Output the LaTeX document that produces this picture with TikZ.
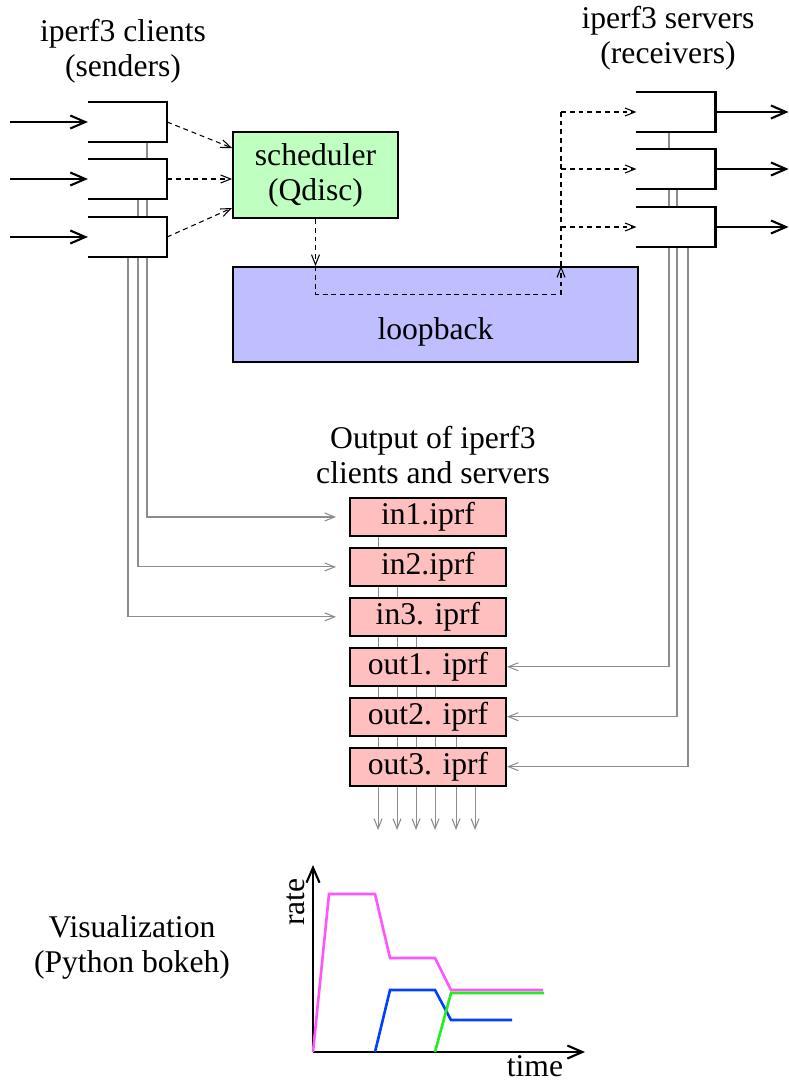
\documentclass[tikz,border=0pt]{standalone}
\usepackage{fontspec}
\setmainfont{Liberation Serif}
\usepackage{xcolor}
\usepackage{tikz}
\usetikzlibrary{arrows.meta,positioning,backgrounds}
\definecolor{schedgreen}{HTML}{BFFFBF}
\definecolor{loopblue}{HTML}{BFBFFF}
\definecolor{filepink}{HTML}{FFBFBF}
\definecolor{ratepink}{HTML}{FF55FF}
\definecolor{rateblue}{HTML}{0040FF}
\definecolor{rategreen}{HTML}{22EE22}
\tikzstyle{port} = [rectangle, fill=white, minimum width=1.57cm, minimum height=0.78cm, inner sep=0pt]
\tikzstyle{bracket} = [draw, line width=1.3pt]
\tikzstyle{block} = [rectangle, draw, line width=1.1pt, align=center, inner sep=0pt]
\tikzstyle{iprf} = [block, fill=filepink, minimum width=3.12cm, minimum height=0.76cm]
\tikzstyle{flow} = [draw, line width=1.2pt, -{Straight Barb[length=3mm,width=2.6mm]}]
\tikzstyle{ctrl} = [draw, line width=0.6pt, dash pattern=on 2.8pt off 2.2pt]
\tikzstyle{ctrltip} = [-{Straight Barb[length=2mm,width=1.6mm]}]
\tikzstyle{feed} = [draw, gray!90, line width=0.6pt, -{Straight Barb[length=2mm,width=1.6mm]}]
\tikzstyle{rate} = [line width=1.5pt]

\begin{document}
\begin{tikzpicture}[x=0.02cm, y=-0.02cm, font=\fontsize{18}{20}\selectfont]
        \useasboundingbox (0,0) rectangle (788,1084);

        % Place nodes
        \node [align=center] (ctitle) at (123,51) {iperf3 clients\\(senders)};
        \node [align=center] (stitle) at (668,38) {iperf3 servers\\(receivers)};

        \node [port] (c1) at (127.5,122) {};
        \node [port] (c2) at (127.5,179) {};
        \node [port] (c3) at (127.5,237) {};
        \node [port] (s1) at (676,112) {};
        \node [port] (s2) at (676,169) {};
        \node [port] (s3) at (676,227) {};

        \node [block, fill=schedgreen, minimum width=3.3cm, minimum height=1.72cm] (sched) at (315.5,175) {scheduler\\(Qdisc)};
        \node [block, fill=loopblue, minimum width=8.1cm, minimum height=1.9cm] (loop) at (435.5,314.5) {};
        \node (looptext) at (435.5,332) {loopback};
        \coordinate (bus) at (561,0);

        \node [align=center] (otitle) at (433,455) {Output of iperf3\\clients and servers};
        \node [iprf] (in1) at (428,517) {in1.iprf};
        \node [iprf, below=0.2cm of in1] (in2) {in2.iprf};
        \node [iprf, below=0.2cm of in2] (in3) {in3. iprf};
        \node [iprf, below=0.2cm of in3] (out1) {out1. iprf};
        \node [iprf, below=0.2cm of out1] (out2) {out2. iprf};
        \node [iprf, below=0.2cm of out2] (out3) {out3. iprf};

        \node [align=center] (vtitle) at (132,947) {Visualization\\(Python bokeh)};

        % Brackets of the ports
        \foreach \p in {c1,c2,c3,s1,s2,s3}
            \draw [bracket] (\p.north west) -- (\p.north east) -- (\p.south east) -- (\p.south west);

        % Draw edges
        \foreach \p in {c1,c2,c3}
            \draw [flow] (\p.west) ++(-78,0) -- (\p.west);
        \foreach \p in {s1,s2,s3}
            \draw [flow] (\p.east) -- ++(73,0);

        \draw [ctrl, ctrltip] (c1.east) -- ([yshift=0.54cm]sched.west);
        \draw [ctrl, ctrltip] (c2.east) -- (c2.east -| sched.west);
        \draw [ctrl, ctrltip] (c3.east) -- ([yshift=-0.66cm]sched.west);
        \draw [ctrl, ctrltip] (sched.south) -- (sched.south |- loop.north);
        \draw [ctrl, ctrltip] (sched.south |- loop.north) -- ++(0,28) -| (bus |- loop.north);
        \draw [ctrl] (bus |- loop.north) -- (bus |- s1.west);
        \foreach \p in {s1,s2,s3}
            \draw [ctrl, ctrltip] (bus |- \p.west) -- (\p.west);

        % Result files, behind the boxes
        \begin{scope}[on background layer]
            \draw [feed, shorten >=0.26cm] ([xshift=0.39cm]c1.south) |- (in1.west);
            \draw [feed, shorten >=0.26cm] ([xshift=0.21cm]c2.south) |- (in2.west);
            \draw [feed, shorten >=0.26cm] ([xshift=0.01cm]c3.south) |- (in3.west);
            \draw [feed] ([xshift=-0.14cm]s1.south) |- (out1.east);
            \draw [feed] ([xshift=0.02cm]s2.south) |- (out2.east);
            \draw [feed] ([xshift=0.24cm]s3.south) |- (out3.east);
            \foreach \f/\dx in {in1/0.58,in2/0.96,in3/1.34,out1/1.72,out2/2.14,out3/2.52}
                \draw [feed] ([xshift=\dx cm]\f.south west) -- ([xshift=\dx cm]\f.south west |- 0,830);
        \end{scope}

        % Rate plot
        \coordinate (o) at (313,1052);
        \draw [flow] (o) -- (o |- 0,865);
        \draw [flow] (o) -- (585,1052);
        \node [rotate=90] (ylabel) at (296,902) {rate};
        \node (xlabel) at (535,1066) {time};
        \draw [rate, ratepink] (o) -- (329,894) -- (375,894) -- (390,958) -- (435,958) -- (451,990) -- (543,990);
        \draw [rate, rateblue] (375,1052) -- (390,990) -- (435,990) -- (451,1020) -- (512,1020);
        \draw [rate, rategreen] (435,1052) -- (451,993) -- (544,993);
    \end{tikzpicture}
\end{document}
